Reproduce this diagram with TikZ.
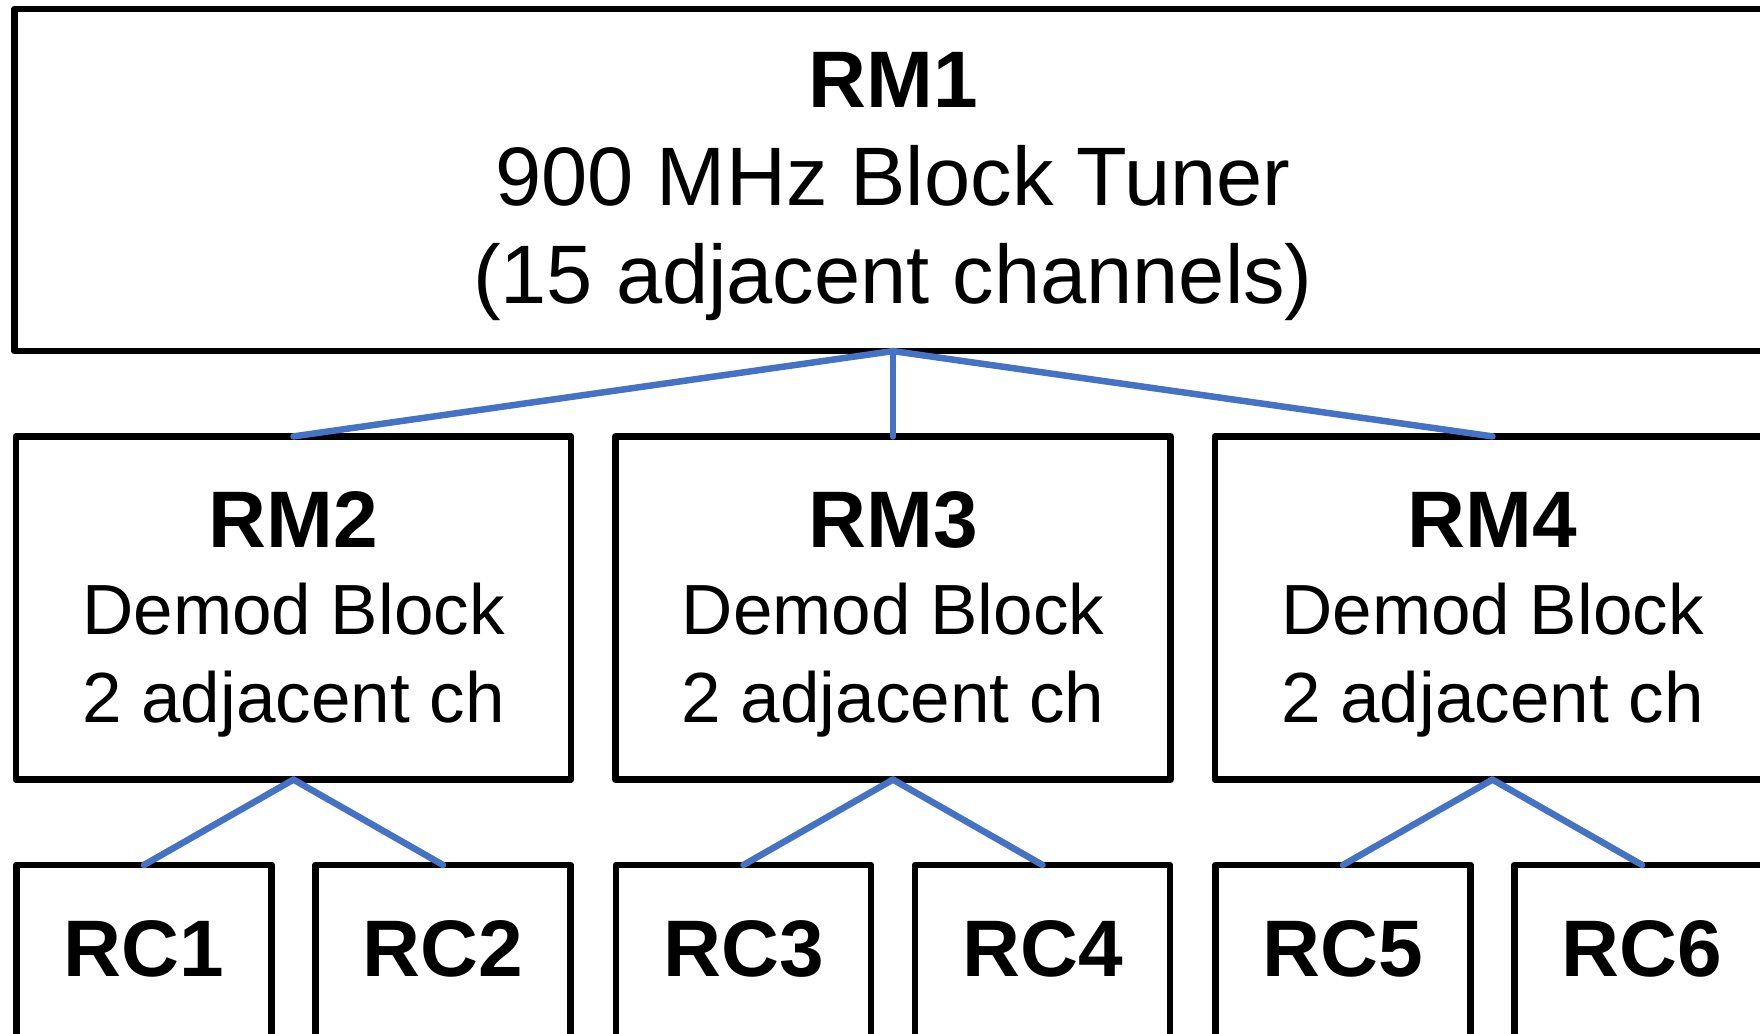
\documentclass[tikz,border=0pt]{standalone}
\usepackage{fontspec}
\setmainfont{Liberation Sans}
\definecolor{linkblue}{HTML}{4472C4}
\newcommand{\rmname}[1]{{\bfseries\fontsize{22.8}{27.9}\selectfont\rule{0pt}{19.5pt}#1}}

\begin{document}
\begin{tikzpicture}[
  x=0.01cm, y=-0.01cm,
  box/.style={rectangle, draw, line width=0.065cm, line join=round, inner sep=0pt, outer sep=0pt, align=center},
  tuner/.style={box, minimum width=17.56cm, minimum height=3.42cm, font=\fontsize{23.6}{27.9}\selectfont},
  demod/.style={box, minimum width=5.55cm, minimum height=3.43cm, font=\fontsize{20.2}{24.8}\selectfont},
  chan/.style={box, minimum width=2.55cm, minimum height=2.0cm, font=\bfseries\fontsize{22.8}{27}\selectfont, text height=16.3pt, text depth=10pt},
  link/.style={draw=linkblue, line width=0.065cm, line cap=round},
]
\useasboundingbox (0,0) rectangle (1760,1034);
\clip (0,0) rectangle (1760,1034);

% ══ Column centres ══
\def\xa{293.5}
\def\xb{893}
\def\xc{1492.5}
\def\dc{149.5}

% ══ Block tuner ══
\node[tuner] (rm1) at (\xb, 180) {\rmname{RM1}\\900 MHz Block Tuner\\(15 adjacent channels)};

% ══ Demod blocks ══
\node[demod] (rm2) at (\xa, 608) {\rmname{RM2}\\Demod Block\\2 adjacent ch};
\node[demod] (rm3) at (\xb, 608) {\rmname{RM3}\\Demod Block\\2 adjacent ch};
\node[demod] (rm4) at (\xc, 608) {\rmname{RM4}\\Demod Block\\2 adjacent ch};

% ══ Receiver channels ══
\node[chan] (rc1) at (\xa-\dc, 965) {RC1};
\node[chan] (rc2) at (\xa+\dc, 965) {RC2};
\node[chan] (rc3) at (\xb-\dc, 965) {RC3};
\node[chan] (rc4) at (\xb+\dc, 965) {RC4};
\node[chan] (rc5) at (\xc-\dc, 965) {RC5};
\node[chan] (rc6) at (\xc+\dc, 965) {RC6};

% ══ Links ══
\draw[link] (rm1.south) -- (rm2.north);
\draw[link] (rm1.south) -- (rm3.north);
\draw[link] (rm1.south) -- (rm4.north);

\draw[link] (rm2.south) -- (rc1.north);
\draw[link] (rm2.south) -- (rc2.north);
\draw[link] (rm3.south) -- (rc3.north);
\draw[link] (rm3.south) -- (rc4.north);
\draw[link] (rm4.south) -- (rc5.north);
\draw[link] (rm4.south) -- (rc6.north);

\end{tikzpicture}
\end{document}
